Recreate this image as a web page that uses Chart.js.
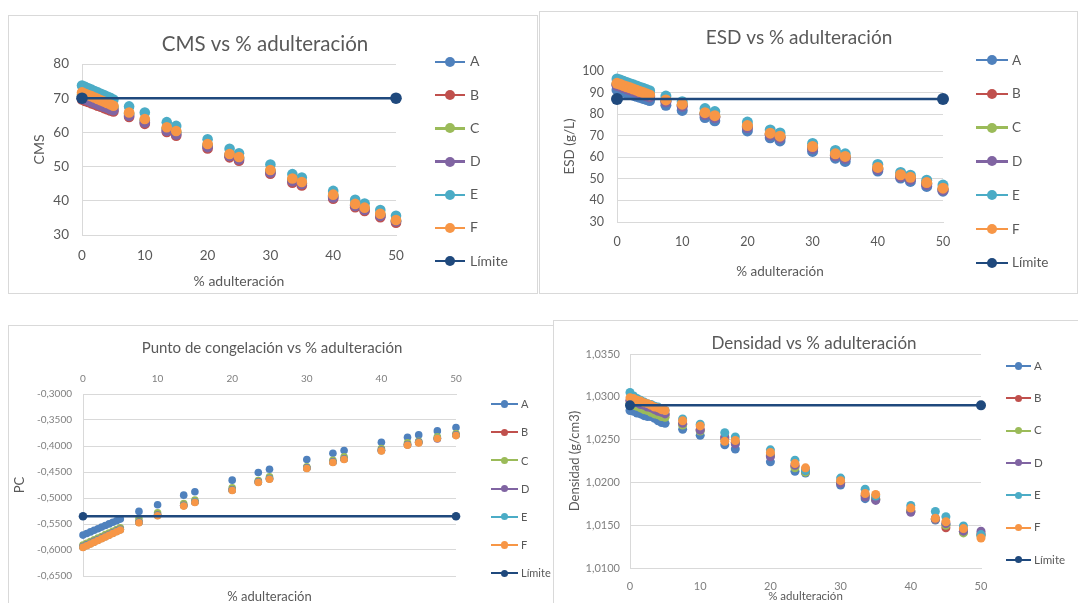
<!DOCTYPE html>
<html>
<head>
<meta charset="utf-8">
<script src="https://cdn.jsdelivr.net/npm/chart.js@4.4.1/dist/chart.umd.min.js"></script>
<style>
  html, body { margin: 0; padding: 0; background: #fff; overflow: hidden; width: 1078px; height: 603px; font-family: Lato, sans-serif; }
  .box { position: absolute; background: #fff; border: 1px solid #d9d9d9; overflow: hidden; }
  .box canvas { position: absolute; left: 0; top: 0; }
  .item { position: absolute; white-space: nowrap; color: #595959; }
  .item span { position: absolute; display: block; }
</style>
</head>
<body>
<div class="box" id="b1" style="left:8px;top:15px;width:528px;height:277px"><canvas id="c1" width="528" height="277"></canvas></div>
<div class="box" id="b2" style="left:539px;top:11px;width:537px;height:281px"><canvas id="c2" width="537" height="281"></canvas></div>
<div class="box" id="b3" style="left:8px;top:325px;width:560px;height:290px"><canvas id="c3" width="560" height="290"></canvas></div>
<div class="box" id="b4" style="left:553px;top:320px;width:560px;height:300px;z-index:2"><canvas id="c4" width="560" height="300"></canvas></div>
<script>
/*************************************************
 * DATOS
 *************************************************/
const pct = [0, 0.5, 1, 1.5, 2, 2.5, 3, 3.5, 4, 4.5, 5, 7.5, 10, 13.5, 15, 20, 23.5, 25, 30, 33.5, 35, 40, 43.5, 45, 47.5, 50];
const names = ['A', 'B', 'C', 'D', 'E', 'F'];
const limX = [0, 50];

// CMS
const cmsA = [70.6,70.2,69.9,69.5,69.2,68.8,68.5,68.1,67.8,67.4,67.1, 65.4,63.4,61.0,59.9,56.1,53.5,52.5,48.6,46.0,45.1,41.3,38.7,37.6,35.8,34.1];
const cmsB = [69.6,69.2,68.9,68.5,68.2,67.8,67.5,67.1,66.8,66.4,66.1, 64.5,62.5,60.1,59.0,55.3,52.7,51.7,47.9,45.3,44.5,40.6,38.1,37.0,35.2,33.6];
const cmsC = [71.1,70.7,70.4,70.0,69.7,69.3,69.0,68.6,68.2,67.9,67.5, 65.5,63.6,61.2,60.1,56.3,53.4,52.5,48.8,46.2,45.3,41.6,38.9,37.8,36.0,34.2];
const cmsD = [70.0,69.6,69.3,68.9,68.6,68.2,67.9,67.5,67.2,66.8,66.5, 64.9,62.9,60.5,59.4,55.7,53.1,52.1,48.3,45.7,44.9,41.0,38.5,37.4,35.6,34.0];
const cmsE = [73.7,73.3,72.9,72.5,72.1,71.7,71.3,70.9,70.5,70.1,69.6, 67.6,65.8,63.0,61.9,58.0,55.2,53.9,50.6,47.8,46.8,42.9,40.3,39.2,37.3,35.6];
const cmsF = [71.7,71.3,70.9,70.6,70.2,69.8,69.4,69.0,68.6,68.2,67.8, 65.8,63.9,61.5,60.4,56.6,53.7,52.8,49.0,46.5,45.5,41.8,39.1,38.0,36.2,34.4];
const cmsLim = 70;

// ESD (g/L)
const esdA = [91.2,90.7,90.2,89.7,89.2,88.8,88.3,87.8,87.3,86.8,86.3, 84.1,81.7,78.4,76.9,72.2,69.0,67.6,62.7,59.6,58.1,53.6,50.4,48.8,46.5,44.3];
const esdB = [93.7,93.2,92.6,92.1,91.6,91.0,90.5,89.9,89.4,88.8,88.3, 86.0,84.0,80.1,78.7,74.1,70.6,69.2,64.4,61.0,59.8,54.7,51.3,50.1,47.7,45.1];
const esdC = [94.0,93.5,92.9,92.4,91.9,91.3,90.8,90.2,89.7,89.1,88.6, 86.3,84.3,80.4,79.0,74.4,70.9,69.5,64.7,61.3,60.1,55.0,51.6,50.4,48.0,45.4];
const esdD = [93.4,92.9,92.3,91.8,91.3,90.7,90.2,89.6,89.1,88.5,88.0, 85.7,83.7,79.8,78.4,73.8,70.3,68.9,64.1,60.7,59.5,54.4,51.0,49.8,47.4,44.8];
const esdE = [96.3,95.8,95.2,94.7,94.1,93.6,93.1,92.5,92.0,91.4,90.9, 88.4,85.8,82.6,81.2,76.3,72.7,71.3,66.4,63.2,61.6,56.7,53.0,51.7,49.4,47.1];
const esdF = [94.3,93.8,93.2,92.7,92.2,91.6,91.1,90.5,90.0,89.4,88.9, 86.6,84.6,80.7,79.3,74.7,71.2,69.8,65.0,61.6,60.4,55.3,51.9,50.7,48.3,45.7];
const esdLim = 87;

// Punto de congelación
const pcA = [-0.5713,-0.5683,-0.5652,-0.5621,-0.5590,-0.5560,-0.5529,-0.5498,-0.5467,-0.5437,-0.5406, -0.5258,-0.5130,-0.4945,-0.4881,-0.4657,-0.4510,-0.4446,-0.4260,-0.4139,-0.4088,-0.3928,-0.3832,-0.3787,-0.3710,-0.3646];
const pcB = [-0.5940,-0.5907,-0.5874,-0.5840,-0.5807,-0.5774,-0.5740,-0.5707,-0.5674,-0.5640,-0.5607, -0.5466,-0.5330,-0.5145,-0.5075,-0.4845,-0.4692,-0.4628,-0.4423,-0.4308,-0.4250,-0.4084,-0.3975,-0.3930,-0.3850,-0.3790];
const pcC = [-0.5905,-0.5872,-0.5838,-0.5805,-0.5772,-0.5739,-0.5705,-0.5672,-0.5639,-0.5605,-0.5572, -0.5400,-0.5284,-0.5105,-0.5041,-0.4804,-0.4664,-0.4593,-0.4401,-0.4273,-0.4209,-0.4049,-0.3940,-0.3909,-0.3825,-0.3761];
const pcD = [-0.5935,-0.5902,-0.5869,-0.5835,-0.5802,-0.5769,-0.5735,-0.5702,-0.5669,-0.5635,-0.5602, -0.5462,-0.5326,-0.5140,-0.5072,-0.4840,-0.4688,-0.4624,-0.4420,-0.4304,-0.4246,-0.4080,-0.3972,-0.3926,-0.3866,-0.3786];
const pcE = [-0.5945,-0.5912,-0.5879,-0.5845,-0.5812,-0.5779,-0.5745,-0.5712,-0.5679,-0.5645,-0.5612, -0.5471,-0.5336,-0.5150,-0.5080,-0.4850,-0.4696,-0.4632,-0.4428,-0.4312,-0.4255,-0.4089,-0.3980,-0.3935,-0.3852,-0.3795];
const pcF = [-0.5950,-0.5917,-0.5884,-0.5850,-0.5817,-0.5784,-0.5750,-0.5717,-0.5684,-0.5650,-0.5617, -0.5476,-0.5342,-0.5156,-0.5086,-0.4855,-0.4702,-0.4638,-0.4433,-0.4318,-0.4260,-0.4094,-0.3985,-0.3940,-0.3857,-0.3800];
const pcLim = -0.535;

// Densidad (g/cm3)
const denA = [1.0284,1.0283,1.0281,1.0280,1.0278,1.0277,1.0277,1.0275,1.0272,1.0270,1.0269, 1.0262,1.0255,1.0244,1.0239,1.0224,1.0213,1.0211,1.0197,1.0181,1.0180,1.0166,1.0156,1.0151,1.0143,1.0138];
const denB = [1.0295,1.0293,1.0292,1.0290,1.0289,1.0287,1.0286,1.0284,1.0282,1.0281,1.0279, 1.0268,1.0262,1.0253,1.0247,1.0232,1.0219,1.0213,1.0200,1.0185,1.0181,1.0167,1.0158,1.0147,1.0143,1.0140];
const denC = [1.0292,1.0290,1.0289,1.0287,1.0285,1.0284,1.0282,1.0280,1.0279,1.0277,1.0276, 1.0267,1.0260,1.0250,1.0246,1.0231,1.0217,1.0212,1.0200,1.0184,1.0180,1.0167,1.0157,1.0150,1.0141,1.0138];
const denD = [1.0296,1.0294,1.0293,1.0291,1.0290,1.0288,1.0287,1.0285,1.0283,1.0282,1.0280, 1.0269,1.0261,1.0252,1.0245,1.0230,1.0220,1.0214,1.0199,1.0183,1.0179,1.0165,1.0157,1.0152,1.0143,1.0143];
const denE = [1.0305,1.0301,1.0298,1.0296,1.0294,1.0292,1.0291,1.0289,1.0288,1.0286,1.0284, 1.0274,1.0268,1.0258,1.0253,1.0238,1.0226,1.0214,1.0205,1.0192,1.0184,1.0173,1.0166,1.0160,1.0149,1.0139];
const denF = [1.0299,1.0298,1.0296,1.0295,1.0293,1.0292,1.0290,1.0288,1.0287,1.0285,1.0284, 1.0272,1.0266,1.0248,1.0249,1.0235,1.0222,1.0217,1.0202,1.0187,1.0186,1.0170,1.0158,1.0154,1.0146,1.0135];
const denLim = 1.029;

/*************************************************
 * ESTILO
 *************************************************/
const colors = ['#4F81BD', '#C0504D', '#9BBB59', '#8064A2', '#4BACC6', '#F79646'];
const limColor = '#1F497D';
const grid = '#d9d9d9';
const textDark = '#595959';
const textLight = '#7f7f7f';

Chart.defaults.font.family = 'Lato, sans-serif';

// Chart.js pinta primero el "order" más alto: la serie F y el límite quedan encima, como en Excel
function datasets(series, lim, r) {
  const ds = series.map((ys, i) => ({
    label: names[i],
    data: pct.map((x, j) => ({ x, y: ys[j] })),
    order: series.length - i,
    showLine: false,
    pointRadius: r,
    pointBorderWidth: 0,
    backgroundColor: colors[i],
    borderColor: colors[i],
    clip: false
  }));
  ds.push({
    label: 'Límite',
    data: limX.map(x => ({ x, y: lim })),
    order: 0,
    showLine: true,
    borderWidth: 2.5,
    pointRadius: r + 0.5,
    pointBorderWidth: 0,
    backgroundColor: limColor,
    borderColor: limColor,
    clip: false
  });
  return ds;
}

function makeChart(id, o) {
  const xTitle = { display: true, text: '% adulteración', color: textDark, font: { size: o.xtSize }, padding: { top: 0, bottom: o.xtPad } };
  const scales = {
    x: {
      type: 'linear', position: o.xPos, min: 0, max: 50,
      ticks: { stepSize: 10, color: o.tickColor, font: { size: o.tickSize }, padding: o.xTickPad, maxRotation: 0 },
      grid: { display: false, drawTicks: false },
      border: { color: grid },
      title: o.xPos === 'bottom' ? xTitle : { display: false },
      afterFit: s => { s.height = o.xH; }
    },
    y: {
      type: 'linear', min: o.yMin, max: o.yMax,
      ticks: { stepSize: o.yStep, color: o.tickColor, font: { size: o.tickSize }, padding: o.yTickPad, callback: o.fmt },
      grid: { color: grid, drawTicks: false },
      border: { color: grid },
      title: { display: true, text: o.yTitle, color: textDark, font: { size: o.ytSize }, padding: { top: o.ytPad, bottom: 0 } },
      afterFit: s => { s.width = o.yW; }
    },
    gap: {
      type: 'linear', position: 'right', display: true,
      ticks: { display: false }, grid: { display: false, drawTicks: false }, border: { display: false },
      afterFit: s => { s.width = o.gapW; }
    }
  };
  if (o.xPos === 'top') {
    scales.x2 = {
      type: 'linear', position: 'bottom', display: true,
      ticks: { display: false }, grid: { display: false, drawTicks: false }, border: { display: false },
      title: xTitle,
      afterFit: s => { s.height = o.x2H; }
    };
  }
  return new Chart(document.getElementById(id), {
    type: 'scatter',
    data: { datasets: datasets(o.series, o.lim, o.r) },
    options: {
      responsive: false,
      animation: false,
      events: [],
      layout: { padding: { left: 0, right: o.R, top: 0, bottom: 0 } },
      plugins: {
        legend: { display: false },
        tooltip: { enabled: false },
        title: {
          display: true, text: o.title, color: textDark,
          font: { size: o.titleSize, weight: 'normal', lineHeight: 1 },
          padding: { top: o.titleTop, bottom: o.titleBottom }
        }
      },
      scales
    }
  });
}

/*************************************************
 * LEYENDA HTML
 *************************************************/
function htmlLegend(chart, boxId, o) {
  const box = document.getElementById(boxId);
  chart.data.datasets.forEach((d, i) => {
    const it = document.createElement('div');
    it.className = 'item';
    it.style.left = o.x + 'px';
    it.style.top = (o.y + i * o.dy) + 'px';
    it.style.fontSize = o.font + 'px';
    it.innerHTML = `
      <span style="left:0;top:${-o.lw / 2}px;width:${o.lineW}px;height:${o.lw}px;background:${d.borderColor}"></span>
      <span style="left:${o.lineW / 2 - o.r}px;top:${-o.r}px;width:${o.r * 2}px;height:${o.r * 2}px;border-radius:50%;background:${d.borderColor}"></span>
      <span style="left:${o.lineW + o.gap}px;top:${-o.font * 0.62}px;line-height:${o.font * 1.2}px">${d.label}</span>`;
    box.appendChild(it);
  });
}

/*************************************************
 * GRÁFICOS
 *************************************************/
const comma4 = v => v.toFixed(4).replace('.', ',');

const ch1 = makeChart('c1', {
  series: [cmsA, cmsB, cmsC, cmsD, cmsE, cmsF], lim: cmsLim, r: 5.3,
  title: 'CMS vs % adulteración', titleSize: 20.5, titleTop: 17.7, titleBottom: 9.8,
  R: 16, yW: 73, gapW: 125, xH: 58, xPos: 'bottom',
  yMin: 30, yMax: 80, yStep: 10, fmt: v => v,
  tickColor: textDark, tickSize: 13.5, xTickPad: 12.9, yTickPad: 13,
  yTitle: 'CMS', ytSize: 14, ytPad: 21.6, xtSize: 14, xtPad: 3.6
});
htmlLegend(ch1, 'b1', { x: 426, y: 46, dy: 33.2, lineW: 30, lw: 2.5, r: 5, font: 14, gap: 5 });

const ch2 = makeChart('c2', {
  series: [esdA, esdB, esdC, esdD, esdE, esdF], lim: esdLim, r: 5.5,
  title: 'ESD vs % adulteración', titleSize: 19, titleTop: 16.5, titleBottom: 23.5,
  R: 19, yW: 77, gapW: 115, xH: 71, xPos: 'bottom',
  yMin: 30, yMax: 100, yStep: 10, fmt: v => v,
  tickColor: textDark, tickSize: 12.5, xTickPad: 12.5, yTickPad: 13,
  yTitle: 'ESD (g/L)', ytSize: 13.5, ytPad: 21.9, xtSize: 13.5, xtPad: 12.9
});
htmlLegend(ch2, 'b2', { x: 436, y: 48, dy: 33.8, lineW: 32, lw: 2.5, r: 5, font: 13.5, gap: 4 });

const ch3 = makeChart('c3', {
  series: [pcA, pcB, pcC, pcD, pcE, pcF], lim: pcLim, r: 3.8,
  title: 'Punto de congelación vs % adulteración', titleSize: 15, titleTop: 14.5, titleBottom: 10.5,
  R: 34, yW: 74, gapW: 79, xH: 28, x2H: 40, xPos: 'top',
  yMin: -0.65, yMax: -0.30, yStep: 0.05, fmt: comma4,
  tickColor: textLight, tickSize: 10, xTickPad: 9, yTickPad: 11,
  yTitle: 'PC', ytSize: 13, ytPad: 3.2, xtSize: 13, xtPad: 11.2
});
htmlLegend(ch3, 'b3', { x: 482, y: 78, dy: 28.2, lineW: 27, lw: 2, r: 3.6, font: 11, gap: 3 });

const ch4 = makeChart('c4', {
  series: [denA, denB, denC, denD, denE, denF], lim: denLim, r: 4.5,
  title: 'Densidad vs % adulteración', titleSize: 17, titleTop: 14.5, titleBottom: 1.5,
  R: 40, yW: 76, gapW: 93, xH: 53, xPos: 'bottom',
  yMin: 1.010, yMax: 1.035, yStep: 0.005, fmt: comma4,
  tickColor: textLight, tickSize: 11, xTickPad: 11.4, yTickPad: 10,
  yTitle: 'Densidad (g/cm3)', ytSize: 13, ytPad: 13.2, xtSize: 11.5, xtPad: 17.4
});
htmlLegend(ch4, 'b4', { x: 452, y: 45, dy: 32.3, lineW: 25, lw: 2, r: 3.6, font: 11.5, gap: 3 });
</script>
</body>
</html>
